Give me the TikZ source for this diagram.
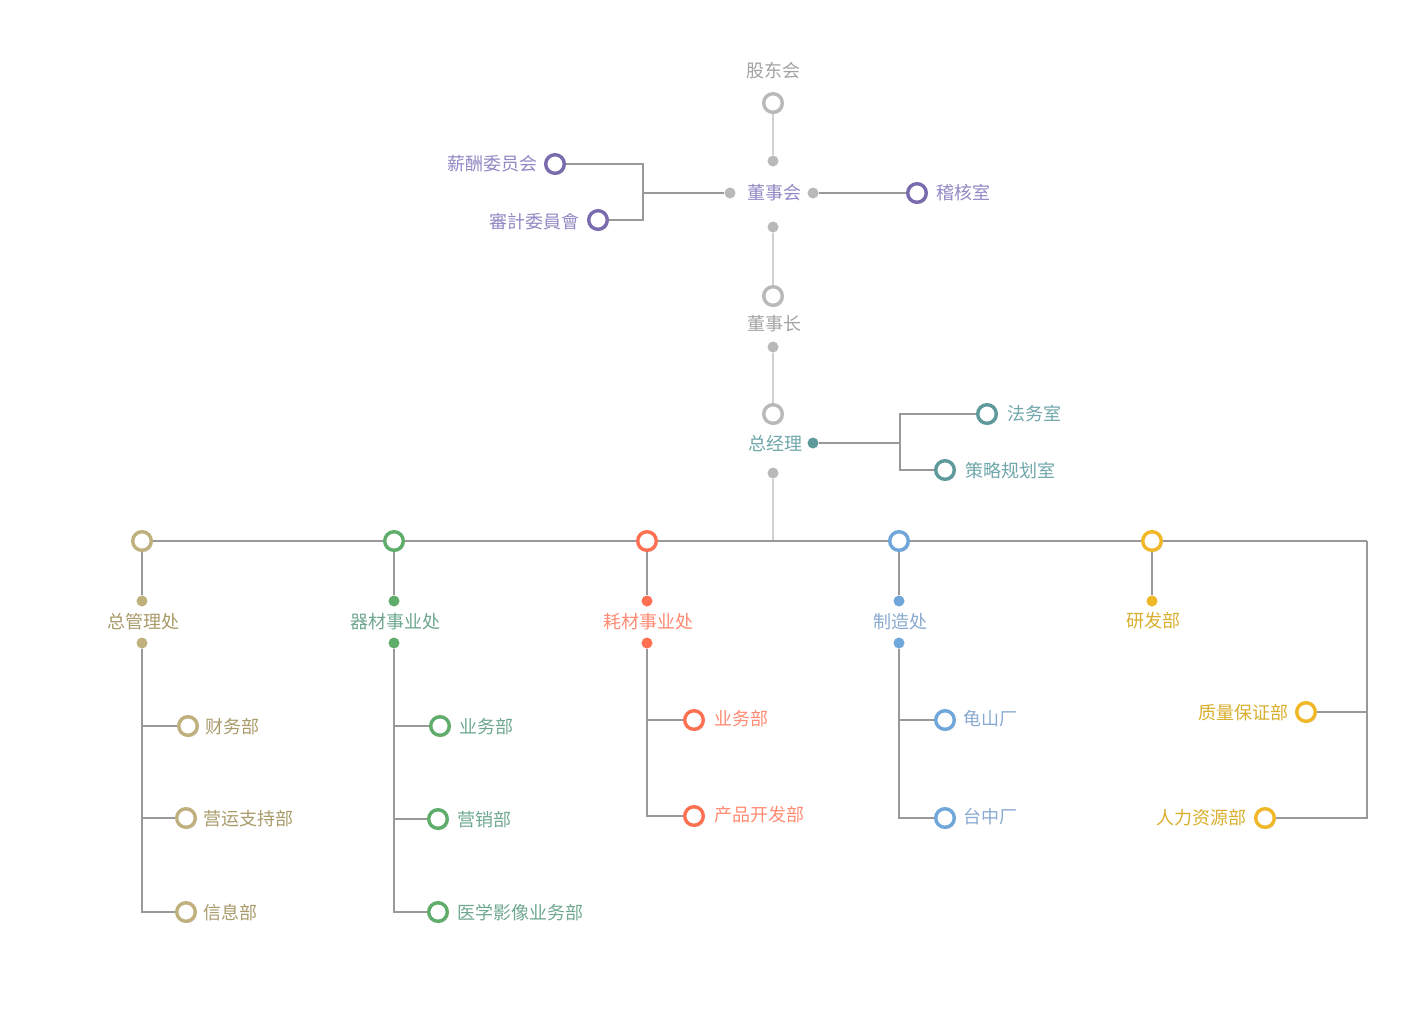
\documentclass[tikz,border=0pt]{standalone}
\usepackage{fontspec}
\newfontfamily\cjk{Noto Sans CJK SC}
\usetikzlibrary{shadows}
\definecolor{grayring}{HTML}{B9B9B9}
\definecolor{graytext}{HTML}{A3A3A3}
\definecolor{purring}{HTML}{7A6AAE}
\definecolor{purtext}{HTML}{9288C4}
\definecolor{tealring}{HTML}{5E9A9C}
\definecolor{tealtext}{HTML}{6FA7AA}
\definecolor{tanring}{HTML}{BFB07E}
\definecolor{tantext}{HTML}{A99B6B}
\definecolor{grnring}{HTML}{5FAD6B}
\definecolor{grntext}{HTML}{6FA88E}
\definecolor{orgring}{HTML}{FF7052}
\definecolor{orgtext}{HTML}{FF8B73}
\definecolor{bluring}{HTML}{6FA7DB}
\definecolor{blutext}{HTML}{8AAAD1}
\definecolor{yelring}{HTML}{F0B827}
\definecolor{yeltext}{HTML}{D9AF2E}
\definecolor{linegray}{HTML}{999999}
\definecolor{trunkgray}{HTML}{D0D0D0}
\tikzset{
  ring/.style={circle, draw=#1, line width=1.7pt, fill=white, minimum size=9.3pt, inner sep=0pt,
    drop shadow={shadow xshift=0.7pt, shadow yshift=-0.9pt, opacity=0.12, fill=black}},
  dot/.style={circle, fill=#1, minimum size=5.5pt, inner sep=0pt},
  lbl/.style={text=#1, font=\cjk\fontsize{9}{11}\selectfont, inner sep=0pt},
  trunk/.style={draw=trunkgray, line width=0.8pt},
  branch/.style={draw=linegray, line width=0.6pt},
}
\begin{document}
\begin{tikzpicture}[x=0.5pt,y=-0.5pt]
\useasboundingbox[fill=white] (0,0) rectangle (1418,1024);

\node [lbl=graytext] (gdh-t) at (773,71) {股东会};
\node [ring=grayring] (gdh) at (773,103) {};
\node [dot=grayring] (dsh-u) at (773,161) {};
\node [dot=grayring] (dsh-l) at (730,193) {};
\node [dot=grayring] (dsh-r) at (813,193) {};
\node [dot=grayring] (dsh-d) at (773,227) {};
\node [lbl=purtext] (dsh) at (774,193) {董事会};
\draw [trunk] (gdh) -- (dsh-u);

\coordinate (wyh) at (643,193);
\node [ring=purring] (xc) at (555,164) {};
\node [ring=purring] (sj) at (598,220) {};
\node [lbl=purtext, anchor=east] at (538,164) {薪酬委员会};
\node [lbl=purtext, anchor=east] at (580,222) {審計委員會};
\draw [branch] (dsh-l) -- (wyh);
\draw [branch] (wyh) |- (xc);
\draw [branch] (wyh) |- (sj);
\node [ring=purring] (jhs) at (917,193) {};
\node [lbl=purtext, anchor=west] at (936,193) {稽核室};
\draw [branch] (dsh-r) -- (jhs);

\node [ring=grayring] (dsz) at (773,296) {};
\node [lbl=graytext] (dsz-t) at (774,324) {董事长};
\node [dot=grayring] (dsz-d) at (773,347) {};
\draw [trunk] (dsh-d) -- (dsz);

\node [ring=grayring] (zjl) at (773,414) {};
\node [lbl=tealtext] (zjl-t) at (775,444) {总经理};
\node [dot=tealring] (zjl-r) at (813,443) {};
\node [dot=grayring] (zjl-d) at (773,473) {};
\draw [trunk] (dsz-d) -- (zjl);

\coordinate (zjl-j) at (900,443);
\node [ring=tealring] (fws) at (987,414) {};
\node [ring=tealring] (clgh) at (945,470) {};
\node [lbl=tealtext, anchor=west] at (1007,414) {法务室};
\node [lbl=tealtext, anchor=west] at (965,471) {策略规划室};
\draw [branch] (zjl-r) -- (zjl-j);
\draw [branch] (zjl-j) |- (fws);
\draw [branch] (zjl-j) |- (clgh);

\coordinate (main) at (773,541);
\coordinate (right) at (1367,541);
\draw [trunk] (zjl-d) -- (main);

\node [ring=tanring] (zgl) at (142,541) {};
\node [ring=grnring] (qc) at (394,541) {};
\node [ring=orgring] (hc) at (647,541) {};
\node [ring=bluring] (zz) at (899,541) {};
\node [ring=yelring] (yf) at (1152,541) {};
\draw [branch] (zgl) -- (qc) -- (hc) -- (zz) -- (yf) -- (right);

\foreach \n/\x/\c/\t in {zgl/142/tan/总管理处, qc/394/grn/器材事业处, hc/647/org/耗材事业处, zz/899/blu/制造处}
{
  \node [dot=\c ring] (\n-u) at (\x,601) {};
  \node [lbl=\c text] at (\x+1,622) {\t};
  \node [dot=\c ring] (\n-d) at (\x,643) {};
  \draw [branch] (\n) -- (\n-u);
}
\node [dot=yelring] (yf-u) at (1152,601) {};
\node [lbl=yeltext] at (1153,621) {研发部};
\draw [branch] (yf) -- (yf-u);

\foreach \n/\x/\y/\t in {cw/188/726/财务部, yy/186/818/营运支持部, xx/186/912/信息部}
{
  \node [ring=tanring] (\n) at (\x,\y) {};
  \node [lbl=tantext, anchor=west] at (\x+17,\y+1) {\t};
  \draw [branch] (zgl-d) |- (\n);
}
\foreach \n/\x/\y/\t in {qcyw/440/726/业务部, yx/438/819/营销部, yx2/438/912/医学影像业务部}
{
  \node [ring=grnring] (\n) at (\x,\y) {};
  \node [lbl=grntext, anchor=west] at (\x+19,\y+1) {\t};
  \draw [branch] (qc-d) |- (\n);
}
\foreach \n/\x/\y/\t in {hcyw/694/720/业务部, cpkf/694/816/产品开发部}
{
  \node [ring=orgring] (\n) at (\x,\y) {};
  \node [lbl=orgtext, anchor=west] at (\x+20,\y-1) {\t};
  \draw [branch] (hc-d) |- (\n);
}
\foreach \n/\x/\y/\t in {gs/945/720/龟山厂, tz/945/818/台中厂}
{
  \node [ring=bluring] (\n) at (\x,\y) {};
  \node [lbl=blutext, anchor=west] at (\x+18,\y-1) {\t};
  \draw [branch] (zz-d) |- (\n);
}
\node [ring=yelring] (zlbz) at (1306,712) {};
\node [ring=yelring] (rlzy) at (1265,818) {};
\node [lbl=yeltext, anchor=east] at (1289,713) {质量保证部};
\node [lbl=yeltext, anchor=east] at (1247,818) {人力资源部};
\draw [branch] (right) |- (zlbz);
\draw [branch] (right) |- (rlzy);
\end{tikzpicture}
\end{document}
